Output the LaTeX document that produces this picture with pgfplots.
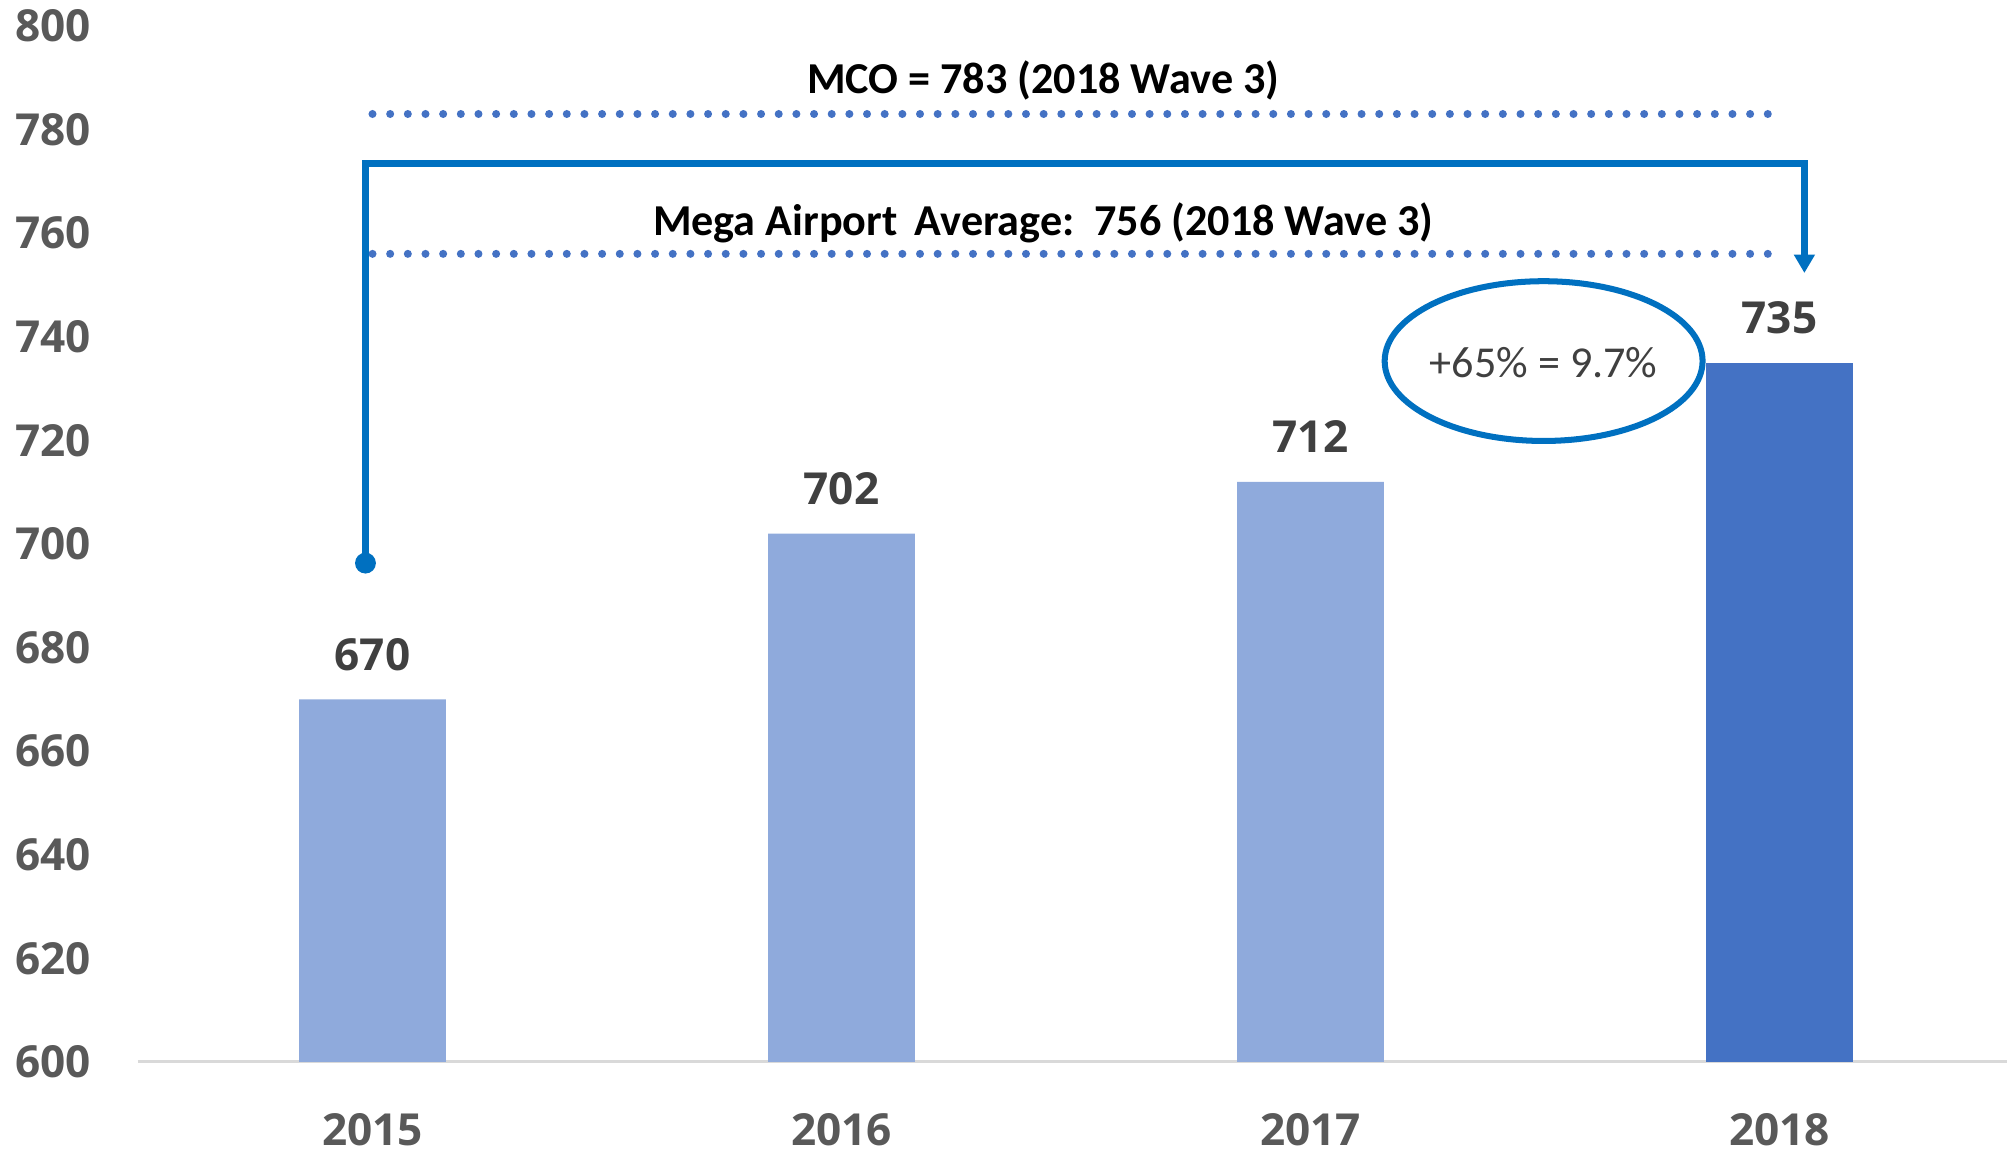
\documentclass[border=0pt]{standalone}
\usepackage{pgfplots}
\pgfplotsset{compat=1.18}
\usepackage{fontspec}
\setmainfont{Open Sans}
\newfontfamily\calibri{Carlito}
\usetikzlibrary{arrows.meta}
\definecolor{lightbar}{HTML}{8FAADC}
\definecolor{darkbar}{HTML}{4472C4}
\definecolor{tickgray}{HTML}{595959}
\definecolor{labelgray}{HTML}{404040}
\definecolor{brk}{HTML}{0070C0}
\definecolor{axisgray}{HTML}{D9D9D9}
\begin{document}
\begin{tikzpicture}
\begin{axis}[
  name=ax,
  scale only axis,
  width=465.5pt, height=258.1pt,
  xmin=-0.5, xmax=3.484, ymin=600, ymax=800,
  ytick={600,620,...,800},
  xtick={0,1,2,3}, xticklabels={2015,2016,2017,2018},
  axis line style={draw=none},
  tick style={draw=none},
  major tick length=0pt,
  clip=false,
  /pgf/number format/assume math mode=true,
  yticklabel style={font=\bfseries\fontsize{11}{13}\selectfont, text=tickgray, anchor=east, inner sep=0pt, xshift=-11.5pt},
  xticklabel style={font=\bfseries\fontsize{11}{13}\selectfont, text=tickgray, anchor=north, inner sep=0pt, yshift=-12.7pt},
]
\draw[axisgray, line width=0.75pt] (axis cs:-0.5,600) -- (axis cs:3.484,600);
\addplot[ybar, bar width=36.6pt, bar shift=0pt, fill=lightbar, draw=none,
  nodes near coords,
  nodes near coords style={font=\bfseries\fontsize{11}{13}\selectfont, text=labelgray, anchor=south, inner sep=0pt, yshift=7pt}]
  coordinates {(0,670) (1,702) (2,712)};
\addplot[ybar, bar width=36.6pt, bar shift=0pt, fill=darkbar, draw=none,
  nodes near coords,
  nodes near coords style={font=\bfseries\fontsize{11}{13}\selectfont, text=labelgray, anchor=south, inner sep=0pt, yshift=7pt}]
  coordinates {(3,735)};
% reference lines
\addplot[darkbar, line width=2pt, line cap=round, dash pattern=on 0pt off 4.4pt] coordinates {(0,783) (3,783)};
\addplot[darkbar, line width=2pt, line cap=round, dash pattern=on 0pt off 4.4pt] coordinates {(0,756) (3,756)};
\node[font=\calibri\bfseries\fontsize{11}{13}\selectfont, text=black] at (axis cs:1.43,789.5) {MCO = 783 (2018 Wave 3)};
\node[font=\calibri\bfseries\fontsize{11}{13}\selectfont, text=black] at (axis cs:1.43,762.0) {Mega Airport\, Average:\ \ 756 (2018 Wave 3)};
% bracket
\draw[brk, line width=1.7pt, -{Triangle[width=5pt,length=4.6pt]}] (axis cs:-0.015,696.3) -- (axis cs:-0.015,773.4) -- (axis cs:3.053,773.4) -- (axis cs:3.053,752.3);
\fill[brk] (axis cs:-0.015,696.3) circle[radius=2.6pt];
% ellipse
\draw[brk, line width=1.5pt] (axis cs:2.497,735.3) ellipse[x radius=39.6pt, y radius=19.9pt];
\node[font=\calibri\fontsize{11}{13}\selectfont, text=labelgray] at (axis cs:2.497,735.0) {+65\% = 9.7\%};
\end{axis}
\pgfresetboundingbox
\path ([xshift=-34.38pt, yshift=-22.42pt]ax.south west) rectangle ++(500pt, 286.98pt);
\end{tikzpicture}
\end{document}
